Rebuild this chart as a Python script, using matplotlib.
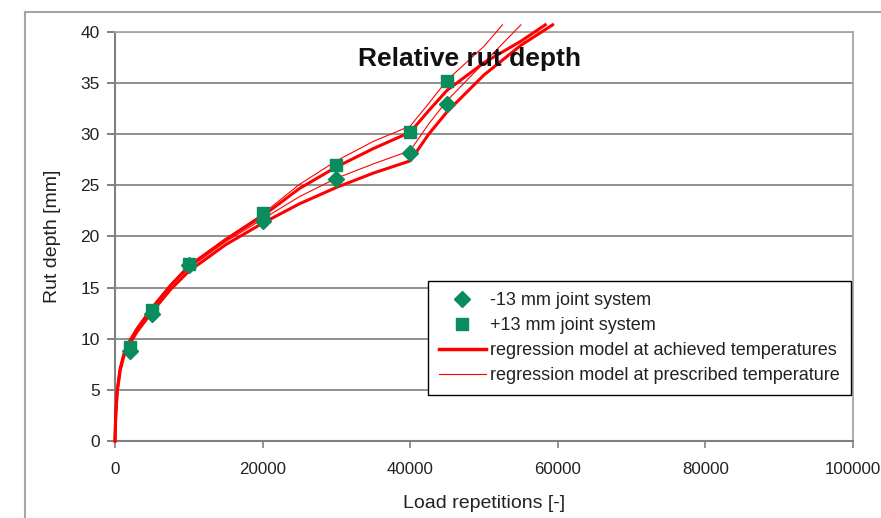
import matplotlib.pyplot as plt
from matplotlib.lines import Line2D

plt.rcParams['font.family'] = ['Liberation Sans', 'DejaVu Sans']

# Measured rut depth (mm) at the load repetitions
reps_meas = [2000, 5000, 10000, 20000, 30000, 40000, 45000]
rut_minus13 = [8.8, 12.4, 17.2, 21.5, 25.6, 28.2, 33.0]
rut_plus13 = [9.2, 12.8, 17.3, 22.3, 27.0, 30.2, 35.2]

# Regression model curves
reps_model = [0, 100, 300, 700, 1200, 2000, 3000, 5000, 7500, 10000, 15000,
              20000, 25000, 30000, 35000, 40000, 42500, 45000, 50000, 55000]

achieved_minus13 = [0, 2.5, 4.8, 6.9, 8.3, 9.5, 10.7, 12.6, 14.8, 16.6, 19.2,
                    21.3, 23.2, 24.8, 26.2, 27.4, 30.0, 32.2, 35.8, 38.7]
achieved_plus13 = [0, 2.6, 5.0, 7.1, 8.5, 9.8, 11.0, 13.0, 15.2, 17.1, 19.7,
                   22.0, 24.7, 26.8, 28.6, 30.2, 32.3, 34.3, 37.0, 39.1]
prescribed_minus13 = [0, 2.6, 4.9, 7.0, 8.4, 9.7, 10.9, 12.9, 15.1, 16.9, 19.5,
                      21.7, 23.9, 25.7, 27.1, 28.4, 31.0, 33.3, 37.0]
prescribed_plus13 = [0, 2.7, 5.1, 7.2, 8.6, 9.9, 11.1, 13.1, 15.3, 17.2, 19.8,
                     22.2, 25.1, 27.4, 29.3, 30.8, 33.0, 35.3, 38.6]

# ends of the curves, just above the top of the plot
end_reps = {'am': 59300, 'ap': 58300, 'pm': 55000, 'pp': 52500}
end_rut = 40.7

green = '#0b8c5c'
red = '#ff0000'

fig = plt.figure(figsize=(8.81, 5.18), dpi=100)
ax = fig.add_axes([115 / 881, 1 - 441 / 518, 738 / 881, 409 / 518])

# outer chart frame
fig.add_artist(Line2D([25 / 881, 25 / 881], [0, 1 - 12 / 518],
                      transform=fig.transFigure, color='#a6a6a6', lw=1.5))
fig.add_artist(Line2D([25 / 881, 1], [1 - 12 / 518, 1 - 12 / 518],
                      transform=fig.transFigure, color='#a6a6a6', lw=1.5))

n = len(prescribed_minus13)
ax.plot(reps_model + [end_reps['am']], achieved_minus13 + [end_rut], color=red,
        lw=2.2, clip_on=False, zorder=3)
ax.plot(reps_model + [end_reps['ap']], achieved_plus13 + [end_rut], color=red,
        lw=2.2, clip_on=False, zorder=3)
ax.plot(reps_model[:n] + [end_reps['pm']], prescribed_minus13 + [end_rut], color=red,
        lw=0.8, clip_on=False, zorder=3)
ax.plot(reps_model[:n] + [end_reps['pp']], prescribed_plus13 + [end_rut], color=red,
        lw=0.8, clip_on=False, zorder=3)

ax.plot(reps_meas, rut_minus13, linestyle='none', marker='D', ms=8.5, color=green,
        zorder=4)
ax.plot(reps_meas, rut_plus13, linestyle='none', marker='s', ms=8.5, color=green,
        zorder=4)

ax.set_xlim(0, 100000)
ax.set_ylim(0, 40)
ax.set_xticks(range(0, 100001, 20000))
ax.set_yticks(range(0, 41, 5))
ax.yaxis.grid(True, color='#8f8f8f', lw=1.4)
ax.set_axisbelow(True)

for side in ['top', 'right']:
    ax.spines[side].set_color('#a6a6a6')
    ax.spines[side].set_linewidth(1.3)
for side in ['left', 'bottom']:
    ax.spines[side].set_color('#808080')
    ax.spines[side].set_linewidth(1.5)
ax.tick_params(axis='y', length=6, width=1.4, color='#808080', labelsize=12.5,
               labelcolor='#222222', pad=5)
ax.tick_params(axis='x', length=5, width=1.2, color='#808080', labelsize=12.2,
               labelcolor='#222222', pad=10)

ax.set_xlabel('Load repetitions [-]', fontsize=14, color='#222222', labelpad=13)
ax.set_ylabel('Rut depth [mm]', fontsize=14, color='#222222', labelpad=14)

ax.text(0.48, 0.933, 'Relative rut depth', transform=ax.transAxes, fontsize=19,
        fontweight='bold', ha='center', va='center', color='#111111')

handles = [
    Line2D([], [], linestyle='none', marker='D', ms=8, color=green),
    Line2D([], [], linestyle='none', marker='s', ms=8, color=green),
    Line2D([], [], color=red, lw=2.5),
    Line2D([], [], color=red, lw=0.8),
]
labels = ['-13 mm joint system', '+13 mm joint system',
          'regression model at achieved temperatures',
          'regression model at prescribed temperature']
leg = ax.legend(handles, labels, loc='lower right', bbox_to_anchor=(0.997, 0.112),
                fontsize=13, frameon=True, fancybox=False, framealpha=1,
                borderpad=0.6, labelspacing=0.45, handlelength=2.6,
                handletextpad=0.25, borderaxespad=0)
leg.get_frame().set_edgecolor('#000000')
leg.get_frame().set_linewidth(1.0)
for t in leg.get_texts():
    t.set_color('#222222')

fig.savefig('out.png', dpi=100)
